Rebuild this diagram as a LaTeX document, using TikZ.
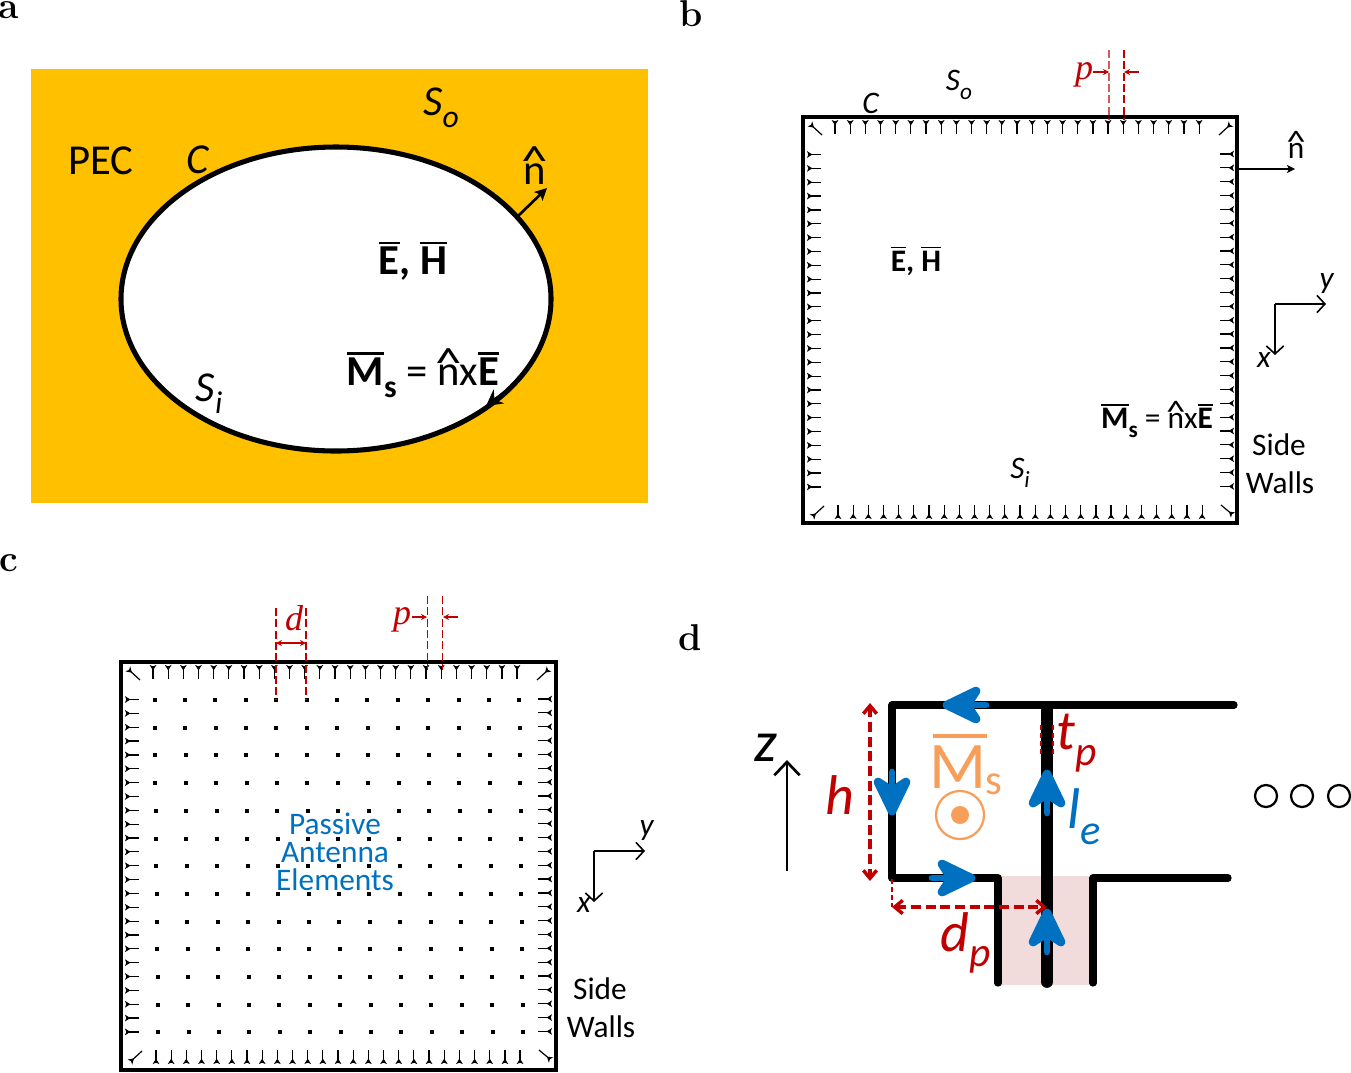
\documentclass[tikz,border=0pt]{standalone}
\usepackage{fontspec}
\setmainfont{Carlito}
\newfontfamily\serifit[Ligatures=TeX]{Liberation Serif}
\newfontfamily\lmbold{Latin Modern Roman}
\usetikzlibrary{positioning,arrows.meta}
\definecolor{pecyellow}{HTML}{FFC000}
\definecolor{dimred}{HTML}{C00000}
\definecolor{paleRed}{HTML}{F2DCDB}
\definecolor{elemblue}{HTML}{0070C0}
\definecolor{fieldorange}{HTML}{F79F5A}
\newlength{\barwd}
\newcommand{\fsz}[1]{\fontsize{#1}{#1}\selectfont}
\newcommand{\nhat}{\ooalign{n\cr\hidewidth\raisebox{.2em}{\scalebox{1.25}[1]{\textasciicircum}}\hidewidth\cr}}
\newcommand{\barb}[1]{\settowidth{\barwd}{\textbf{#1}}\ooalign{\textbf{#1}\cr\rule[.72em]{\barwd}{.06em}\cr}}
\newcommand{\dn}[1]{\raisebox{-.28em}{\scalebox{.74}{#1}}}
\tikzset{
  lab/.style={inner sep=0pt,font=\fsz{23.5}},
  biglab/.style={inner sep=0pt,font=\fsz{32}},
  panel/.style={inner sep=0pt,font=\fsz{28}\lmbold\bfseries},
  dimlab/.style={inner sep=0pt,text=dimred,font=\fsz{27}\serifit\itshape},
  dim/.style={dimred,line width=1.1pt,dash pattern=on 6pt off 2.5pt},
  dimtip/.style={dimred,line width=.8pt,-{Stealth[length=4.5pt,width=4.5pt]}},
  wtick/.style={line width=.9pt,-{Stealth[length=4pt,width=5pt,inset=1pt,reversed]}},
  wall/.style={line width=2.8pt,line join=miter},
  axis/.style={line width=1.2pt,-{Straight Barb[length=6pt,width=13pt]}},
  feed/.style={line width=5.4pt,line cap=round,line join=round},
  ddim/.style={dimred,line width=2.6pt,dash pattern=on 7.5pt off 3.5pt,{Straight Barb[length=6pt,width=10pt]}-{Straight Barb[length=6pt,width=10pt]}},
  bluehead/.pic={
    \draw[elemblue,line width=5pt,line cap=round] (-43,0) -- (-4,0);
    \fill[elemblue,draw=elemblue,line width=6.5pt,line join=round] (-4,0) -- (-33,-14) -- (-24,0) -- (-33,14) -- cycle;
  },
  walls/.pic={
    \draw[wall] (0,0) rectangle (#1);
    \foreach \k in {0,...,24} {
      \draw[wtick] ({32+15.17*\k},17) -- ({32+15.17*\k},3);
      \draw[wtick] ({35+15.17*\k},388) -- ({35+15.17*\k},402);
      \draw[wtick] (18,{37.5+13.85*\k}) -- (4,{37.5+13.85*\k});
      \draw[wtick] (417,{37+13.85*\k}) -- (431,{37+13.85*\k});
    }
    % corners
    \draw[wtick] (19,18) -- (7,7);
    \draw[wtick] (416,18) -- (428,7);
    \draw[wtick] (21,389) -- (9,400);
    \draw[wtick] (418,388) -- (430,398);
  },
  axes/.pic={
    \draw[axis] (0,0) -- (51,0);
    \draw[axis] (0,0) -- (0,51);
  }
}
\begin{document}
\begin{tikzpicture}[x=0.75pt,y=-0.75pt]
  \useasboundingbox (0,0) rectangle (1351,1072);
  \node[panel] (lbla) at (9,10) {a};
  \node[panel] (lblb) at (691,14) {b};
  \node[panel] (lblc) at (9,563) {c};
  \node[panel] (lbld) at (690,638) {d};

  % panel a
  \fill[pecyellow] (31,69) rectangle (648,503);
  \draw[fill=white,line width=3.8pt] (336,299) ellipse [x radius=215,y radius=152];
  \coordinate (ntail) at (517,217);
  \coordinate (nhead) at (547,188);
  \draw[line width=2pt,-{Stealth[length=9pt,width=9pt,inset=2pt]}] (ntail) -- (nhead);
  \coordinate (mtail) at (506,391);
  \coordinate (mhead) at (486,406);
  \draw[line width=2pt,-{Stealth[length=12pt,width=13pt,inset=4pt]}] (mtail) -- (mhead);
  \node[biglab] (pec) at (101,161) {PEC};
  \node[biglab] (ca) at (198,160) {\textit{C}};
  \node[biglab] (soa) at (441,108) {\textit{S}\dn{\textit{o}}};
  \node[biglab] (sia) at (209,394) {\textit{S}\dn{\textit{i}}};
  \node[biglab] (na) at (535,174) {\nhat};
  \node[biglab] (eha) at (413,264) {\barb{E}\textbf{,} \barb{H}};
  \node[biglab] (msa) at (423,378) {\barb{M}\dn{\textbf{s}} = \nhat x\barb{E}};

  % panel b
  \pic at (803,117) {walls={434,406}};
  \coordinate (bn0) at (1238,169);
  \coordinate (bn1) at (1295,169);
  \draw[line width=2pt,-{Stealth[length=6pt,width=6pt,inset=1.5pt]}] (bn0) -- (bn1);
  \node[lab] (nb) at (1296,151) {\nhat};
  \node[lab] (cb) at (871,103) {\textit{C}};
  \node[lab] (sob) at (959,85) {\textit{S}\dn{\textit{o}}};
  \node[lab] (sib) at (1020,473) {\textit{S}\dn{\textit{i}}};
  \node[lab] (ehb) at (916,263) {\barb{E}\textbf{,} \barb{H}};
  \node[lab] (msb) at (1157,423) {\barb{M}\dn{\textbf{s}} = \nhat x\barb{E}};
  \node[lab] (sideb) at (1279,445) {Side};
  \node[lab] (wallb) at (1280,483) {Walls};
  \pic at (1275,304) {axes};
  \node[lab] (yb) at (1327,284) {\textit{y}};
  \node[lab] (xb) at (1264,360) {\textit{x}};
  \draw[dim,opacity=.65] (1109,50) -- (1109,120);
  \draw[dim] (1124,50) -- (1124,120);
  \draw[dimtip] (1093,72) -- (1109,72);
  \draw[dimtip] (1139,72) -- (1124,72);
  \node[dimlab] (pb) at (1084,75) {p};

  % panel c
  \pic at (121,662) {walls={435,408}};
  \foreach \i in {0,...,12}
    \foreach \j in {0,...,12}
      \fill ({154.5+30.4*\i+.3*\j-2},{700+27.7*\j-2}) rectangle +(4,4);
  \draw[dim] (276,608) -- (276,700);
  \draw[dim] (306,608) -- (306,700);
  \draw[dimtip,{Stealth[length=4.5pt,width=4.5pt]}-{Stealth[length=4.5pt,width=4.5pt]}] (276,643) -- (306,643);
  \node[dimlab] (dc) at (294,618) {d};
  \draw[dim] (427.5,596) -- (427.5,670);
  \draw[dim] (442.5,596) -- (442.5,670);
  \draw[dimtip] (412,617) -- (427,617);
  \draw[dimtip] (458,617) -- (443,617);
  \node[dimlab] (pc) at (402,620) {p};
  \node[lab,text=elemblue,align=center,font=\fontsize{23.5}{21}\selectfont] (passive) at (335,852) {Passive\\Antenna\\Elements};
  \pic at (594,851) {axes};
  \node[lab] (yc) at (647,831) {\textit{y}};
  \node[lab] (xc) at (584,905) {\textit{x}};
  \node[lab] (sidec) at (600,989) {Side};
  \node[lab] (wallc) at (601,1027) {Walls};

  % panel d
  \fill[paleRed] (1001,876) rectangle (1091,985);
  \draw[feed] (1234,705) -- (892,705) -- (892,878) -- (998,878) -- (998,983);
  \draw[feed] (1228,878) -- (1093,878) -- (1093,983);
  \draw[feed,line width=8.8pt] (1047,709) -- (1047,982);
  \pic[rotate=180] at (943,705) {bluehead};
  \pic[rotate=-90] at (892,815) {bluehead};
  \pic at (975,878) {bluehead};
  \pic[rotate=90] at (1047,770) {bluehead};
  \pic[rotate=90] at (1047,909) {bluehead};
  \coordinate (ztail) at (787,871);
  \coordinate (zhead) at (787,760);
  \draw[line width=2pt,-{Straight Barb[length=10pt,width=19pt]}] (ztail) -- (zhead);
  \node[inner sep=0pt,font=\fsz{43}] (zd) at (766,748) {\textit{z}};
  \draw[ddim] (870,703) -- (870,881);
  \draw[dimred,line width=1.4pt,dash pattern=on 4pt off 2pt] (892,879) -- (892,907);
  \draw[ddim] (892,907) -- (1047,907);
  \draw[dimred,line width=1.6pt,dash pattern=on 4pt off 2pt] (1041,725) -- (1041,755);
  \draw[dimred,line width=1.6pt,dash pattern=on 4pt off 2pt] (1053,725) -- (1053,755);
  \node[inner sep=0pt,text=dimred,font=\fsz{42}] (hd) at (840,795) {\textit{h}};
  \node[inner sep=0pt,text=dimred,font=\fsz{42}] (dpd) at (966,943) {\textit{d}\dn{\textit{p}}};
  \node[inner sep=0pt,text=dimred,font=\fsz{42}] (tpd) at (1077,743) {\textit{t}\dn{\textit{p}}};
  \node[inner sep=0pt,text=elemblue,font=\fsz{43}] (led) at (1084,817) {\textit{l}\dn{\textit{e}}};
  \node[inner sep=0pt,text=fieldorange,font=\fsz{50}] (msd) at (958,767) {M};
  \node[inner sep=0pt,text=fieldorange,font=\fsz{32}] (ssd) at (994,784) {s};
  \draw[fieldorange,line width=2.6pt] (933,736) -- (987,736);
  \draw[fieldorange,line width=1.7pt] (960,815) circle [radius=24];
  \fill[fieldorange] (960,815) circle [radius=9];
  \foreach \cx in {1266,1302,1339}
    \draw[line width=1.7pt] (\cx,796) circle [radius=11];
\end{tikzpicture}
\end{document}
